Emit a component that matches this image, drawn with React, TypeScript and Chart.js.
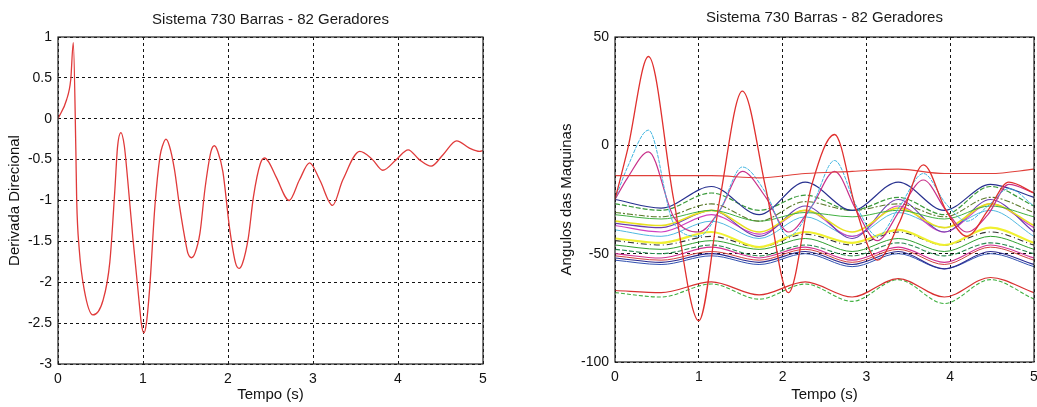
import React, { useEffect, useRef } from "react";
import { Chart, registerables } from "chart.js";

Chart.register(...registerables);

const FONT = "'Liberation Sans', Arial, sans-serif";
const TITLE = "Sistema 730 Barras - 82 Geradores";

// Left chart: Derivada Direcional
const tLeft = [0, 0.1, 0.15, 0.18, 0.21, 0.22, 0.25, 0.31, 0.41, 0.53, 0.61, 0.67, 0.7, 0.74, 0.78, 0.82, 0.88, 0.96, 0.98, 1.01, 1.04, 1.08, 1.14, 1.2, 1.23, 1.27, 1.31, 1.37, 1.43, 1.51, 1.53, 1.57, 1.61, 1.67, 1.73, 1.8, 1.84, 1.88, 1.94, 2.02, 2.09, 2.13, 2.17, 2.24, 2.3, 2.38, 2.43, 2.48, 2.57, 2.72, 2.84, 2.96, 3.08, 3.23, 3.35, 3.55, 3.7, 3.82, 3.98, 4.12, 4.25, 4.39, 4.53, 4.69, 4.84, 4.96, 5.0];
const dirDeriv = [0, 0.23, 0.48, 0.93, -0.38, -1.0, -1.6, -2.1, -2.4, -2.22, -1.75, -0.85, -0.35, -0.17, -0.33, -0.75, -1.45, -2.3, -2.5, -2.62, -2.5, -2.05, -1.07, -0.46, -0.33, -0.25, -0.33, -0.62, -1.07, -1.56, -1.65, -1.7, -1.65, -1.4, -0.85, -0.4, -0.33, -0.4, -0.65, -1.35, -1.77, -1.83, -1.77, -1.45, -0.95, -0.55, -0.48, -0.53, -0.72, -1.0, -0.75, -0.54, -0.75, -1.06, -0.75, -0.4, -0.5, -0.63, -0.5, -0.38, -0.5, -0.58, -0.44, -0.27, -0.36, -0.4, -0.39];
const leftYTicks = [-3, -2.5, -2, -1.5, -1, -0.5, 0, 0.5, 1];
const xTicks = [0, 1, 2, 3, 4, 5];

// Right chart: Angulos das Maquinas
const tSwing = [0, 0.15, 0.4, 0.7, 1.0, 1.25, 1.52, 1.8, 2.07, 2.35, 2.62, 2.88, 3.13, 3.4, 3.68, 3.95, 4.2, 4.45, 4.7, 5.0];
const swingRed = [-25, -2, 41, -25, -81, -25, 25, -20, -68, -18, 5, -30, -53, -35, -9, -30, -42, -30, -17, -22];
const swingCyan = [-25, -10, 7, -36, -42, -30, -10, -22, -42, -28, -7, -28, -42, -28, -13, -27, -35, -28, -20, -28];
const swingMagenta = [-25, -15, -3, -33, -40, -30, -12, -24, -40, -28, -12, -30, -44, -30, -16, -30, -40, -32, -18, -22];

const tB = [0, 0.55, 1.15, 1.72, 2.27, 2.83, 3.38, 3.93, 4.48, 5.0];
const flatRed = [-14, -14, -14, -15, -13, -12, -11, -13, -13, -11];
const navyUpper = [-25, -29, -19, -32, -17, -30, -17, -30, -18, -24];
const greenDashUpper = [-27, -30, -22, -30, -23, -30, -24, -32, -19, -28];
const oliveDash = [-31, -33, -27, -35, -26, -30, -27, -33, -24, -31];
const greenMid = [-32, -34, -30, -35, -31, -33, -30, -34, -28, -33];
const yellowUpper = [-35, -37, -30, -40, -30, -40, -29, -38, -27, -37];
const purpleMid = [-36, -38, -30, -42, -28, -43, -25, -40, -25, -40];
const magentaMid = [-37, -40, -32, -41, -30, -42, -28, -40, -27, -38];
const lightBlueMid = [-39, -42, -35, -43, -33, -42, -31, -38, -30, -42];
const yellowLower = [-43, -45, -40, -47, -40, -45, -39, -46, -38, -45];
const blackDashDot = [-44, -46, -42, -47, -41, -46, -40, -46, -40, -46];
const greenLower = [-46, -48, -44, -48, -43, -49, -43, -49, -42, -48];
const darkGreenLower = [-48, -50, -46, -51, -46, -51, -45, -51, -45, -50];
const magentaLower = [-50, -52, -47, -52, -47, -53, -47, -54, -46, -52];
const redLower = [-51, -53, -49, -53, -48, -54, -48, -55, -47, -53];
const navyLower = [-52, -54, -50, -54, -49, -55, -49, -57, -49, -55];
const blueLower = [-53, -55, -51, -55, -50, -56, -50, -57, -50, -56];
const bottomRed = [-67, -68, -63, -69, -63, -70, -61.5, -70, -61, -68];
const bottomGreen = [-68, -70, -64, -71, -64, -72, -62, -73, -62, -71];
const rightYTicks = [-100, -50, 0, 50];

const pts = (t: number[], v: number[]) => t.map((x, i) => ({ x, y: v[i] }));

const line = (t: number[], v: number[], color: string, width = 1, dash: number[] = []) => ({
  data: pts(t, v),
  borderColor: color,
  borderWidth: width,
  borderDash: dash,
  pointRadius: 0,
  fill: false,
  cubicInterpolationMode: "monotone" as const,
});

const boxPlugin = {
  id: "box",
  afterDraw(chart: any) {
    const { ctx, chartArea: a } = chart;
    ctx.save();
    ctx.strokeStyle = "#222";
    ctx.lineWidth = 1.2;
    ctx.setLineDash([]);
    ctx.strokeRect(a.left, a.top, a.right - a.left, a.bottom - a.top);
    ctx.restore();
  },
};

const titlePlugin = (text: string, y: number) => ({
  id: "ttl",
  afterDraw(chart: any) {
    const { ctx, chartArea: a } = chart;
    ctx.save();
    ctx.font = `15px ${FONT}`;
    ctx.fillStyle = "#1a1a1a";
    ctx.textAlign = "center";
    ctx.textBaseline = "middle";
    ctx.fillText(text, (a.left + a.right) / 2, y);
    ctx.restore();
  },
});

function makeScales(opts: {
  yMin: number; yMax: number; yTicks: number[]; yTitle: string; yWidth: number; yTitlePad: number; xHeight: number;
}) {
  const gridCommon = { color: "#141414", lineWidth: 1, drawTicks: false };
  return {
    x: {
      type: "linear" as const,
      min: 0,
      max: 5,
      afterBuildTicks: (s: any) => { s.ticks = xTicks.map((v) => ({ value: v })); },
      ticks: { padding: 7, color: "#111", font: { family: FONT, size: 14 }, maxRotation: 0, callback: (v: any) => String(v) },
      grid: gridCommon,
      border: { display: false, dash: [3, 3] },
      title: { display: true, text: "Tempo (s)", color: "#111", font: { family: FONT, size: 15 }, padding: { top: 0, bottom: 3 } },
      afterFit: (s: any) => { s.height = opts.xHeight; },
    },
    y: {
      type: "linear" as const,
      min: opts.yMin,
      max: opts.yMax,
      afterBuildTicks: (s: any) => { s.ticks = opts.yTicks.map((v) => ({ value: v })); },
      ticks: { padding: 6, color: "#111", font: { family: FONT, size: 14 }, callback: (v: any) => String(v) },
      grid: gridCommon,
      border: { display: false, dash: [3, 3] },
      title: { display: true, text: opts.yTitle, color: "#111", font: { family: FONT, size: 15 }, padding: { top: opts.yTitlePad, bottom: 0 } },
      afterFit: (s: any) => { s.width = opts.yWidth; },
    },
  };
}

function LeftChart() {
  const ref = useRef<HTMLCanvasElement>(null);
  useEffect(() => {
    const chart = new Chart(ref.current!, {
      type: "line",
      data: { datasets: [line(tLeft, dirDeriv, "#e03a3a", 1.3)] },
      options: {
        responsive: false,
        animation: false,
        devicePixelRatio: 1,
        layout: { padding: { left: 0, right: 17, top: 37, bottom: 0 } },
        plugins: { legend: { display: false }, tooltip: { enabled: false }, title: { display: false } },
        scales: makeScales({ yMin: -3, yMax: 1, yTicks: leftYTicks, yTitle: "Derivada Direcional", yWidth: 58, yTitlePad: 6, xHeight: 43 }),
      },
      plugins: [boxPlugin, titlePlugin(TITLE, 20)],
    });
    return () => chart.destroy();
  }, []);
  return <canvas ref={ref} width={500} height={407} />;
}

function RightChart() {
  const ref = useRef<HTMLCanvasElement>(null);
  useEffect(() => {
    const datasets = [
      line(tSwing, swingRed, "#e0302e", 1.3),
      line(tB, flatRed, "#e0403a", 1.1),
      line(tSwing, swingCyan, "#3fb4e0", 1, [4, 1]),
      line(tSwing, swingMagenta, "#c8308a", 1.2),
      line(tB, navyUpper, "#27308f", 1.2),
      line(tB, greenDashUpper, "#3a9a3a", 1.2, [5, 2]),
      line(tB, oliveDash, "#5a7a2a", 1.1, [6, 2, 2, 2]),
      line(tB, greenMid, "#40b040", 1),
      line(tB, yellowUpper, "#e8e020", 1.6),
      line(tB, purpleMid, "#6a3fb0", 1.1),
      line(tB, magentaMid, "#d040c0", 1.1),
      line(tB, lightBlueMid, "#50b8e0", 1),
      line(tB, yellowLower, "#f0f030", 2.2),
      line(tB, blackDashDot, "#333333", 1.1, [6, 3, 1, 3]),
      line(tB, greenLower, "#30a030", 1),
      line(tB, darkGreenLower, "#2a8a50", 1.1, [5, 2]),
      line(tB, magentaLower, "#d03090", 1.1),
      line(tB, redLower, "#d04040", 1),
      line(tB, navyLower, "#2a2a90", 1.2),
      line(tB, blueLower, "#3050b0", 1),
      line(tB, bottomRed, "#d83030", 1.2),
      line(tB, bottomGreen, "#40b040", 1.1, [4, 2]),
    ];
    const chart = new Chart(ref.current!, {
      type: "line",
      data: { datasets },
      options: {
        responsive: false,
        animation: false,
        devicePixelRatio: 1,
        layout: { padding: { left: 0, right: 16, top: 37, bottom: 0 } },
        plugins: { legend: { display: false }, tooltip: { enabled: false }, title: { display: false } },
        scales: makeScales({ yMin: -100, yMax: 50, yTicks: rightYTicks, yTitle: "Angulos das Maquinas", yWidth: 95, yTitlePad: 38, xHeight: 45 }),
      },
      plugins: [boxPlugin, titlePlugin(TITLE, 18)],
    });
    return () => chart.destroy();
  }, []);
  return <canvas ref={ref} width={530} height={407} />;
}

export default function App() {
  return (
    <div style={{ position: "fixed", left: 0, top: 0, width: 1037, height: 407, overflow: "hidden", background: "#fff" }}>
      <div style={{ position: "absolute", left: 0, top: 0, width: 500, height: 407 }}>
        <LeftChart />
      </div>
      <div style={{ position: "absolute", left: 520, top: 0, width: 530, height: 407 }}>
        <RightChart />
      </div>
    </div>
  );
}
